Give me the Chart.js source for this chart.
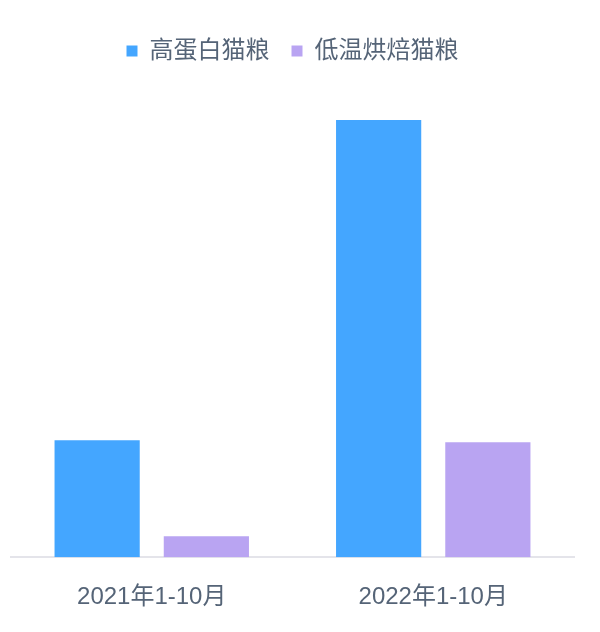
<!DOCTYPE html>
<html>
<head>
<meta charset="utf-8">
<script src="https://cdn.jsdelivr.net/npm/chart.js@4.4.0/dist/chart.umd.min.js"></script>
<style>
  html, body { margin: 0; padding: 0; background: #fff; }
  #wrap { width: 600px; height: 632px; position: relative; }
</style>
</head>
<body>
<div id="wrap"><canvas id="catFoodChart"></canvas></div>
<script>
// categories and series (relative bar heights)
var periods = ["2021年1-10月", "2022年1-10月"];
var highProtein = [117, 437];
var lowTempBaked = [21, 115];

document.addEventListener("DOMContentLoaded", function () {
    var textColor = "#556477";
    var font = "'Liberation Sans', 'Noto Sans CJK SC', sans-serif";
    var ctx = document.getElementById("catFoodChart").getContext("2d");
    new Chart(ctx, {
        type: "bar",
        data: {
            labels: periods,
            datasets: [{
                label: "高蛋白猫粮",
                data: highProtein,
                backgroundColor: "#44a6ff",
                borderWidth: 0
            }, {
                label: "低温烘焙猫粮",
                data: lowTempBaked,
                backgroundColor: "#b9a4f2",
                borderWidth: 0
            }]
        },
        options: {
            responsive: true,
            maintainAspectRatio: false,
            animation: false,
            categoryPercentage: 0.776,
            barPercentage: 0.78,
            layout: { padding: { left: 11, right: 26, top: 17, bottom: 2 } },
            plugins: {
                tooltip: { enabled: false },
                legend: {
                    position: "top",
                    labels: {
                        boxWidth: 11,
                        boxHeight: 11,
                        color: textColor,
                        padding: 22,
                        font: { family: font, size: 24 }
                    }
                }
            },
            scales: {
                x: {
                    grid: { display: false },
                    border: { display: true, color: "#e4e4ea", width: 2 },
                    ticks: { color: textColor, padding: 18, font: { family: font, size: 24 } }
                },
                y: {
                    display: false,
                    min: 0,
                    max: 484
                }
            }
        }
    });
});
</script>
</body>
</html>
